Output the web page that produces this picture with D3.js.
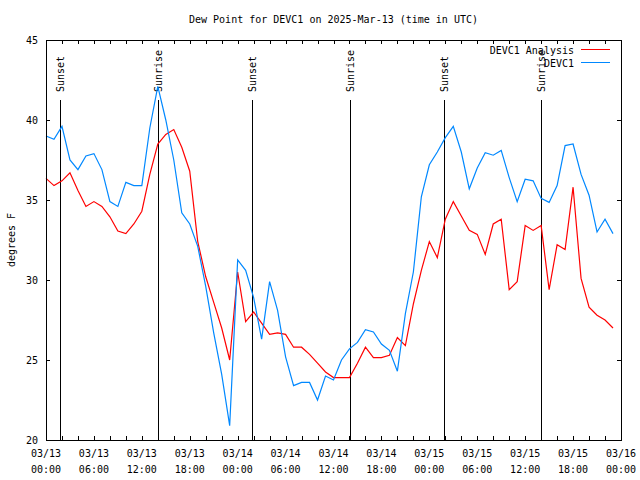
<!DOCTYPE html>
<html>
<head>
<meta charset="utf-8">
<script src="https://cdn.jsdelivr.net/npm/d3@7"></script>
<style>
  html, body { margin: 0; padding: 0; background: #fff; }
  svg text { font-family: "DejaVu Sans Mono", "Liberation Mono", monospace; font-size: 10px; fill: #000; }
</style>
</head>
<body>
<svg id="chart" width="640" height="480"></svg>
<script>
// ---- Data ----
const title = "Dew Point for DEVC1 on 2025-Mar-13 (time in UTC)";
const yLabel = "degrees F";
const startTime = Date.UTC(2025, 2, 13, 0, 0);
const endTime = Date.UTC(2025, 2, 16, 0, 0);
const seriesNames = ["DEVC1 Analysis", "DEVC1"];
const seriesColors = ["#ff0000", "#0088ff"];

// hourly values starting 03/13 00:00 UTC
const analysisValues = [
  36.35, 35.9, 36.2, 36.7, 35.6, 34.6, 34.9, 34.6, 33.95, 33.06, 32.9, 33.5,
  34.3, 36.6, 38.5, 39.1, 39.4, 38.3, 36.8, 32.4, 30.2, 28.6, 27.0, 25.0,
  30.5, 27.4, 28.0, 27.3, 26.6, 26.7, 26.6, 25.8, 25.8, 25.35, 24.8, 24.25,
  23.9, 23.9, 23.9, 24.8, 25.8, 25.15, 25.15, 25.3, 26.4, 25.9, 28.5, 30.6,
  32.4, 31.4, 33.8, 34.9, 34.0, 33.1, 32.85, 31.6, 33.5, 33.8, 29.4, 29.9,
  33.4, 33.1, 33.4, 29.4, 32.2, 31.9, 35.8, 30.1, 28.3, 27.8, 27.5, 27.0
];
const observedValues = [
  39.0, 38.8, 39.6, 37.5, 36.9, 37.75, 37.9, 36.9, 34.9, 34.6, 36.1, 35.9,
  35.9, 39.5, 42.1, 40.0, 37.5, 34.2, 33.5, 32.1, 29.6, 26.7, 24.1, 20.9,
  31.25, 30.6, 28.9, 26.3, 29.9, 28.1, 25.2, 23.4, 23.6, 23.6, 22.5, 24.0,
  23.75, 25.0, 25.7, 26.1, 26.9, 26.75, 26.0, 25.6, 24.3, 27.9, 30.5, 35.2,
  37.2, 38.0, 38.9, 39.6, 38.0, 35.7, 37.0, 37.95, 37.8, 38.1, 36.4, 34.9,
  36.3, 36.2, 35.1, 34.85, 35.9, 38.4, 38.5, 36.6, 35.3, 33.0, 33.8, 32.9
];
const sunEvents = [
  { label: "Sunset",  time: "2025-03-13T01:48:00Z" },
  { label: "Sunrise", time: "2025-03-13T14:04:00Z" },
  { label: "Sunset",  time: "2025-03-14T01:48:00Z" },
  { label: "Sunrise", time: "2025-03-14T14:03:00Z" },
  { label: "Sunset",  time: "2025-03-15T01:49:00Z" },
  { label: "Sunrise", time: "2025-03-15T14:02:00Z" }
];
const yTicks = [20, 25, 30, 35, 40, 45];

// ---- Layout ----
const L = 46, R = 621, T = 40, B = 440;
const svg = d3.select("#chart");

const x = d3.scaleUtc().domain([new Date(startTime), new Date(endTime)]).range([L, R]);
const y = d3.scaleLinear().domain([20, 45]).range([B, T]);

const hourTimes = d3.utcHour.range(new Date(startTime), new Date(endTime));

// ---- Axes ----
const tickTimes = d3.utcHour.every(2).range(new Date(startTime), new Date(endTime + 1));
const labelTimes = d3.utcHour.every(6).range(new Date(startTime), new Date(endTime + 1));
const fmtDate = d3.utcFormat("%m/%d");
const fmtTime = d3.utcFormat("%H:%M");

const axisBottom = d3.axisBottom(x).tickValues(tickTimes).tickSizeInner(-4).tickSizeOuter(0).tickFormat("");
const axisTop = d3.axisTop(x).tickValues(tickTimes).tickSizeInner(-4).tickSizeOuter(0).tickFormat("");
const axisLeft = d3.axisLeft(y).tickValues(yTicks).tickSizeInner(-4).tickSizeOuter(0).tickFormat("");
const axisRight = d3.axisRight(y).tickValues(yTicks).tickSizeInner(-4).tickSizeOuter(0).tickFormat("");

function styleAxis(g) {
  g.select(".domain").remove();
  g.selectAll("line").attr("stroke", "#000").attr("shape-rendering", "crispEdges");
}
svg.append("g").attr("transform", `translate(0,${B})`).call(axisBottom).call(styleAxis);
svg.append("g").attr("transform", `translate(0,${T})`).call(axisTop).call(styleAxis);
svg.append("g").attr("transform", `translate(${L},0)`).call(axisLeft).call(styleAxis);
svg.append("g").attr("transform", `translate(${R},0)`).call(axisRight).call(styleAxis);

// Y tick labels
svg.append("g").selectAll("text").data(yTicks).join("text")
  .attr("x", L - 8).attr("y", d => y(d) + 4)
  .attr("text-anchor", "end").text(d => d);

// X tick labels (two lines)
const xl = svg.append("g").selectAll("g").data(labelTimes).join("g")
  .attr("transform", d => `translate(${x(d)},0)`);
xl.append("text").attr("y", 457).attr("text-anchor", "middle").text(d => fmtDate(d));
xl.append("text").attr("y", 473).attr("text-anchor", "middle").text(d => fmtTime(d));

// Title & y label
svg.append("text").attr("x", (L + R) / 2).attr("y", 23).attr("text-anchor", "middle").text(title);
svg.append("text").attr("transform", `translate(15,${(T + B) / 2}) rotate(-90)`)
  .attr("text-anchor", "middle").text(yLabel);

// ---- Sun event lines ----
const sun = svg.append("g").selectAll("g").data(sunEvents).join("g")
  .attr("transform", d => `translate(${Math.round(x(new Date(d.time))) + 0.5},0)`);
sun.append("line").attr("x1", 0).attr("x2", 0).attr("y1", 100).attr("y2", B)
  .attr("stroke", "#000").attr("stroke-width", 1).attr("shape-rendering", "crispEdges");

// ---- Data lines ----
const line = d3.line().x((d, i) => x(hourTimes[i])).y(d => y(d));
const allSeries = [analysisValues, observedValues];
svg.append("g").selectAll("path").data(allSeries).join("path")
  .attr("d", d => line(d))
  .attr("fill", "none")
  .attr("stroke", (d, i) => seriesColors[i])
  .attr("stroke-width", 1.2);

// ---- Legend ----
const lg = svg.append("g").selectAll("g").data(seriesNames).join("g")
  .attr("transform", (d, i) => `translate(0,${49.5 + i * 13})`);
lg.append("text").attr("x", 574).attr("y", 4).attr("text-anchor", "end").text(d => d);
lg.append("line").attr("x1", 581).attr("x2", 610).attr("y1", 0).attr("y2", 0)
  .attr("stroke", (d, i) => seriesColors[i]).attr("stroke-width", 1).attr("shape-rendering", "crispEdges");

// Sun labels on top
sun.append("text").attr("transform", "translate(3,92) rotate(-90)")
  .attr("text-anchor", "start").text(d => d.label);

// ---- Border ----
svg.append("rect").attr("x", L + 0.5).attr("y", T + 0.5).attr("width", R - L).attr("height", B - T)
  .attr("fill", "none").attr("stroke", "#000").attr("shape-rendering", "crispEdges");
</script>
</body>
</html>
